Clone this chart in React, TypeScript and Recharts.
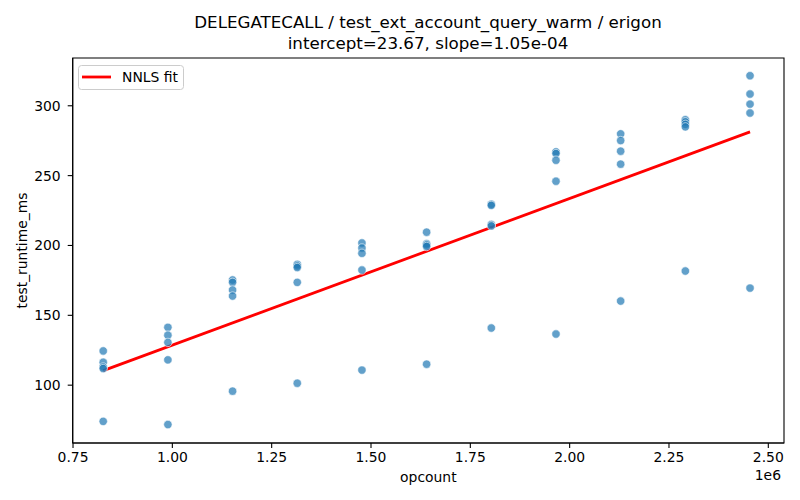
import React from 'react';
import { ComposedChart, Scatter, Line, XAxis, YAxis, Legend, ReferenceArea } from 'recharts';

const opcounts = [826000, 988800, 1151600, 1314400, 1477200, 1640000, 1802800, 1965600, 2128400, 2291200, 2454000];
const runtimesAt1 = [124.5, 116.4, 113.0, 111.9, 74.1];
const runtimesAt2 = [141.4, 135.8, 130.6, 118.1, 71.8];
const runtimesAt3 = [175.3, 173.6, 168.1, 163.8, 95.7];
const runtimesAt4 = [186.5, 185.3, 184.2, 173.6, 101.4];
const runtimesAt5 = [201.8, 198.2, 194.4, 182.4, 110.8];
const runtimesAt6 = [209.5, 201.3, 200.4, 199.3, 115.0];
const runtimesAt7 = [229.5, 228.7, 215.0, 214.0, 140.9];
const runtimesAt8 = [267.0, 265.8, 261.0, 246.0, 136.6];
const runtimesAt9 = [279.9, 275.1, 267.5, 258.2, 160.2];
const runtimesAt10 = [290.0, 288.5, 286.7, 284.9, 181.7];
const runtimesAt11 = [321.5, 308.4, 301.2, 294.8, 169.5];
const runtimeColumns = [
  runtimesAt1, runtimesAt2, runtimesAt3, runtimesAt4, runtimesAt5, runtimesAt6,
  runtimesAt7, runtimesAt8, runtimesAt9, runtimesAt10, runtimesAt11,
];

const fitX = [826000, 2454000];
const fitY = [110.4, 281.3];

const xTicks = [750000, 1000000, 1250000, 1500000, 1750000, 2000000, 2250000, 2500000];
const yTicks = [100, 150, 200, 250, 300];

const titleLine1 = 'DELEGATECALL / test_ext_account_query_warm / erigon';
const titleLine2 = 'intercept=23.67, slope=1.05e-04';

const scatterData = opcounts.flatMap((x, i) => runtimeColumns[i].map((y) => ({ x, y })));
const fitData = fitX.map((x, i) => ({ x, fit: fitY[i] }));

const X_DOMAIN = [749200, 2539500];
const Y_DOMAIN = [58.6, 334.2];

const FONT = '"DejaVu Sans", sans-serif';

const Dot = (props: any) => {
  const { cx, cy } = props;
  if (cx == null || cy == null) return null;
  return <circle cx={cx} cy={cy} r={4.2} fill="#1f77b4" fillOpacity={0.7} stroke="#ffffff" strokeWidth={0.6} />;
};

const LegendBox = () => (
  <svg width={107} height={26} style={{ display: 'block' }}>
    <rect x={0.5} y={0.5} width={105} height={24} rx={3} ry={3} fill="#ffffff" fillOpacity={0.8} stroke="#cccccc" strokeWidth={1} />
    <line x1={4} y1={12} x2={33} y2={12} stroke="#ff0000" strokeWidth={2.8} />
    <text x={44} y={17} fontFamily={FONT} fontSize={13.9} fill="#000">NNLS fit</text>
  </svg>
);

export default function App() {
  return (
    <div style={{ position: 'absolute', left: 0, top: 0, width: 800, height: 500, background: '#fff', fontFamily: FONT }}>
      <div style={{ position: 'absolute', left: 428, top: 12, transform: 'translateX(-50%)', whiteSpace: 'nowrap', fontSize: 16.7, lineHeight: '21px', textAlign: 'center', color: '#000' }}>
        <div>{titleLine1}</div>
        <div>{titleLine2}</div>
      </div>
      <ComposedChart width={800} height={500} margin={{ top: 58, right: 16, bottom: 0, left: 0 }}>
        <XAxis
          type="number"
          dataKey="x"
          domain={X_DOMAIN}
          ticks={xTicks}
          allowDataOverflow
          tickFormatter={(v: number) => (v / 1e6).toFixed(2)}
          height={57}
          tickSize={5}
          tickMargin={4}
          stroke="#000"
          tick={{ fill: '#000', fontSize: 13.9, fontFamily: FONT }}
          axisLine={{ stroke: '#000', strokeWidth: 1.1 }}
          tickLine={{ stroke: '#000', strokeWidth: 1.1 }}
          label={{ value: 'opcount', position: 'insideBottom', offset: 18, fill: '#000', fontSize: 13.9, fontFamily: FONT }}
        />
        <YAxis
          type="number"
          dataKey="y"
          domain={Y_DOMAIN}
          ticks={yTicks}
          allowDataOverflow
          width={72.7}
          tickSize={5}
          tickMargin={7}
          stroke="#000"
          tick={{ fill: '#000', fontSize: 13.9, fontFamily: FONT }}
          axisLine={{ stroke: '#000', strokeWidth: 1.1 }}
          tickLine={{ stroke: '#000', strokeWidth: 1.1 }}
          label={{ value: 'test_runtime_ms', angle: -90, position: 'insideLeft', offset: 22, fill: '#000', fontSize: 13.9, fontFamily: FONT, style: { textAnchor: 'middle' } }}
        />
        <ReferenceArea x1={X_DOMAIN[0]} x2={X_DOMAIN[1]} y1={Y_DOMAIN[0]} y2={Y_DOMAIN[1]} fill="none" fillOpacity={0} stroke="#000" strokeWidth={1.1} />
        <Scatter data={scatterData} dataKey="y" shape={<Dot />} isAnimationActive={false} legendType="none" />
        <Line data={fitData} dataKey="fit" stroke="#ff0000" strokeWidth={2.8} dot={false} activeDot={false} isAnimationActive={false} name="NNLS fit" />
        <Legend
          layout="horizontal"
          verticalAlign="middle"
          align="center"
          content={() => <LegendBox />}
          wrapperStyle={{ left: 78, top: 65, width: 107, height: 26, right: 'auto', bottom: 'auto' }}
        />
      </ComposedChart>
      <div style={{ position: 'absolute', right: 19, top: 467, fontSize: 13.9, lineHeight: '17px', color: '#000' }}>1e6</div>
    </div>
  );
}
